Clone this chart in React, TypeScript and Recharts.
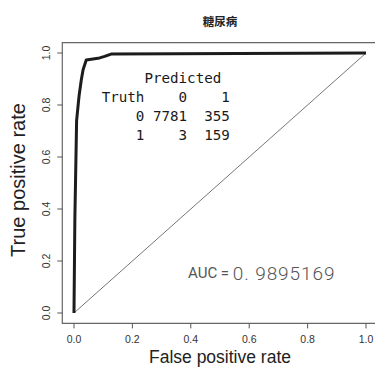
import { LineChart, Line, XAxis, YAxis, ReferenceArea } from 'recharts'

// ROC curve
const fprValues = [0, 0.003, 0.009, 0.016, 0.018, 0.025, 0.031, 0.042, 0.065, 0.088, 0.105, 0.127, 1]
const tprValues = [0, 0.36, 0.74, 0.82, 0.84, 0.896, 0.935, 0.973, 0.977, 0.981, 0.987, 0.996, 1]

const chanceFpr = [0, 1]
const chanceTpr = [0, 1]

const axisTicks = [0, 0.2, 0.4, 0.6, 0.8, 1]

const title = '糖尿病'
const xTitle = 'False positive rate'
const yTitle = 'True positive rate'
const aucLabel = 'AUC = '
const aucValue = '0. 9895169'

// confusion matrix, printed as R would
const tableRows = ['     Predicted', 'Truth    0    1', '    0 7781  355', '    1    3  159']

const rocData = fprValues.map((fpr, i) => ({ fpr, tpr: tprValues[i] }))
const chanceData = chanceFpr.map((fpr, i) => ({ fpr, tpr: chanceTpr[i] }))

const SANS = '"Liberation Sans", Arial, sans-serif'

/** y tick labels run along the axis, like R's las = 0 */
function YTick({ y, payload }: { y?: number; payload?: { value: number } }) {
  if (y == null || !payload) return null
  return (
    <text
      x={46}
      y={y}
      transform={`rotate(-90 46 ${y})`}
      textAnchor="middle"
      dominantBaseline="central"
      fontSize={10.5}
      fontFamily={SANS}
      fill="#333"
    >
      {payload.value.toFixed(1)}
    </text>
  )
}

export default function App() {
  return (
    <div
      style={{
        position: 'absolute',
        left: 0,
        top: 0,
        width: 375,
        height: 370,
        overflow: 'hidden',
        background: '#fff',
      }}
    >
      <LineChart width={380} height={370} margin={{ top: 42.6, right: 2.3, bottom: 0, left: 0 }}>
        <XAxis
          dataKey="fpr"
          type="number"
          domain={[-0.04, 1.04]}
          ticks={axisTicks}
          tickFormatter={(v: number) => v.toFixed(1)}
          height={46.6}
          axisLine={false}
          tickSize={5}
          tickMargin={7}
          tickLine={{ stroke: '#555' }}
          tick={{ fontSize: 10.5, fontFamily: SANS, fill: '#333' }}
        />
        <YAxis
          type="number"
          domain={[-0.04, 1.04]}
          ticks={axisTicks}
          width={62.3}
          axisLine={false}
          tickSize={5}
          tickLine={{ stroke: '#555' }}
          tick={<YTick />}
        />
        <ReferenceArea
          x1={-0.04}
          x2={1.04}
          y1={-0.04}
          y2={1.04}
          fill="none"
          stroke="#666"
          strokeWidth={1.2}
        />
        <Line
          data={chanceData}
          dataKey="tpr"
          type="linear"
          stroke="#777"
          strokeWidth={1}
          dot={false}
          isAnimationActive={false}
        />
        <Line
          data={rocData}
          dataKey="tpr"
          type="linear"
          stroke="#1c1c1c"
          strokeWidth={3}
          strokeLinejoin="round"
          dot={false}
          isAnimationActive={false}
        />
        <g>
          <text
            x={220}
            y={21}
            textAnchor="middle"
            dominantBaseline="central"
            fontSize={11.5}
            fontWeight={700}
            fontFamily='"Noto Sans CJK SC", sans-serif'
            fill="#222"
          >
            {title}
          </text>
          <text
            x={220}
            y={357}
            textAnchor="middle"
            dominantBaseline="central"
            fontSize={17.5}
            fontFamily={SANS}
            fill="#222"
          >
            {xTitle}
          </text>
          <text
            x={18}
            y={180}
            transform="rotate(-90 18 180)"
            textAnchor="middle"
            dominantBaseline="central"
            fontSize={20}
            fontFamily={SANS}
            fill="#222"
          >
            {yTitle}
          </text>
          {tableRows.map((row, i) => (
            <text
              key={i}
              x={101.7}
              y={78 + i * 19}
              dominantBaseline="central"
              fontSize={14.2}
              fontWeight={500}
              fontFamily='"DejaVu Sans Mono", monospace'
              fill="#1a1a1a"
              style={{ whiteSpace: 'pre' }}
            >
              {row}
            </text>
          ))}
          <text
            x={188}
            y={273}
            dominantBaseline="central"
            fontFamily="Roboto, sans-serif"
            fill="#555"
          >
            <tspan fontSize={15}>{aucLabel}</tspan>
            <tspan fontSize={19} fontWeight={300} letterSpacing={0.9}>
              {aucValue}
            </tspan>
          </text>
        </g>
      </LineChart>
    </div>
  )
}
